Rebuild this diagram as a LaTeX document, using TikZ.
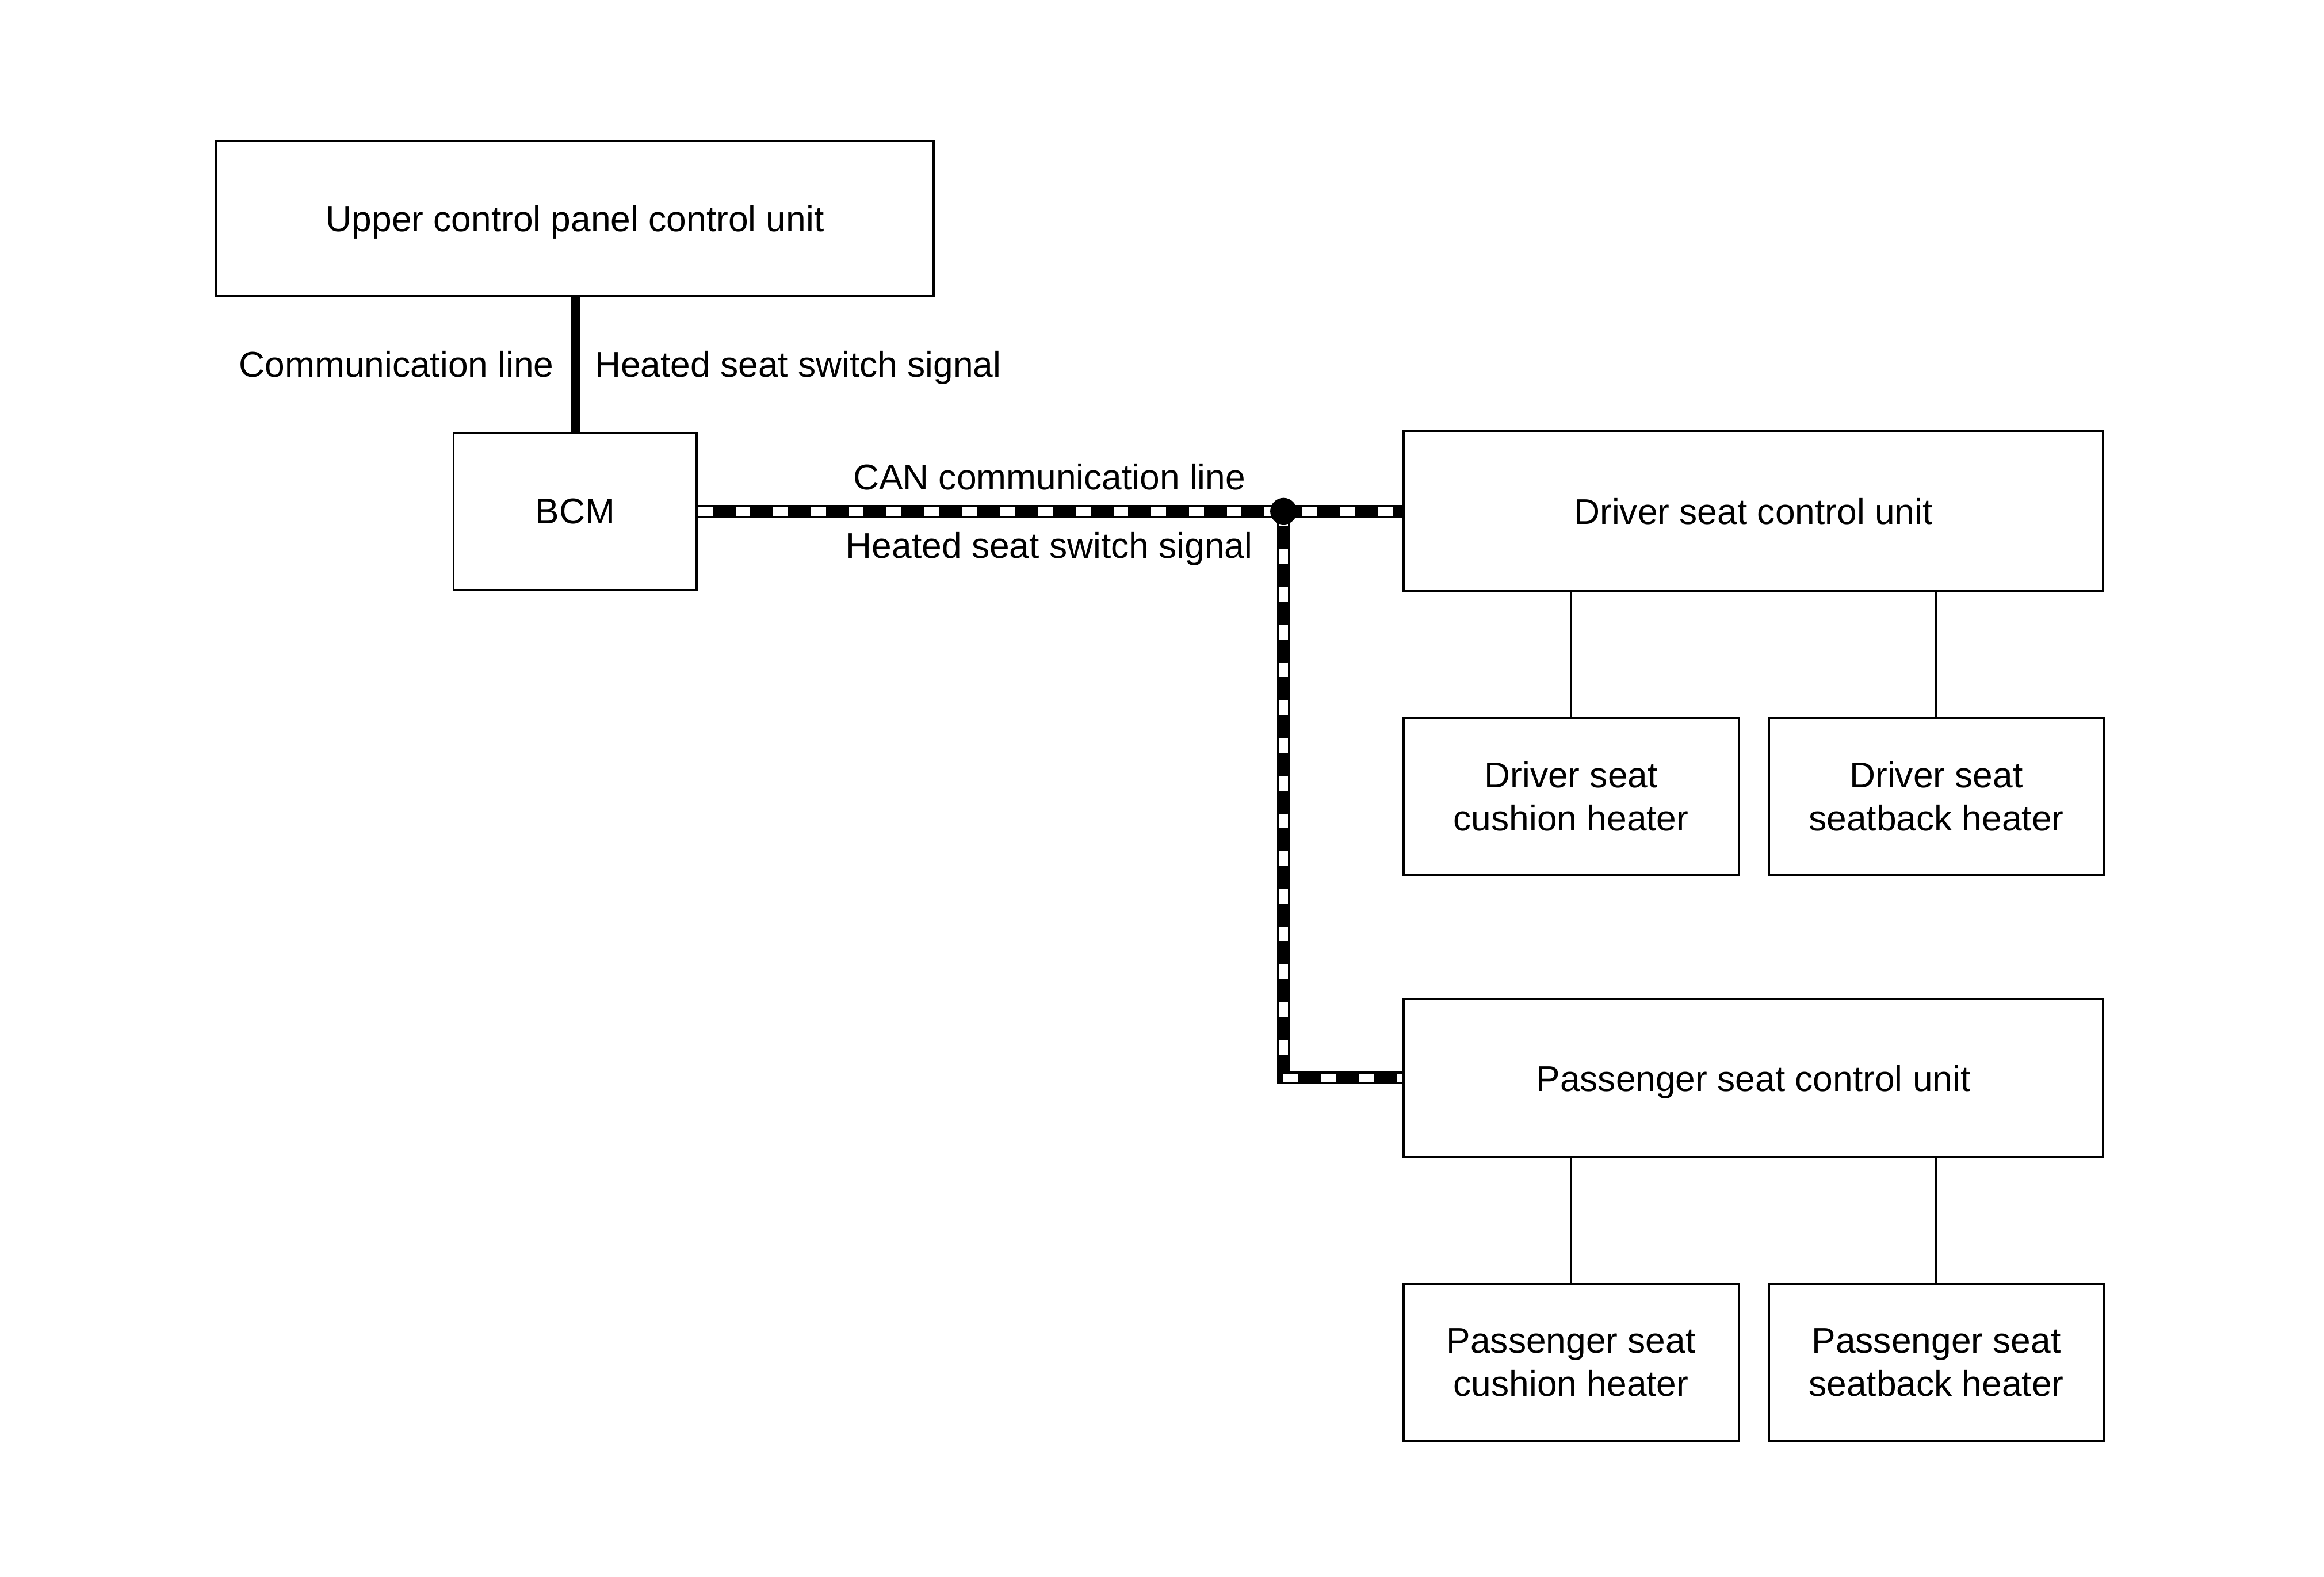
\documentclass[tikz,border=0pt]{standalone}
\usepackage{fontspec}
\setmainfont{Liberation Sans}
\usepackage{xcolor}
\usepackage{tikz}
\usetikzlibrary{arrows.meta,positioning}

\begin{document}
\begin{tikzpicture}[
    x=0.2mm, y=-0.2mm,
    font=\fontsize{13.76pt}{16.5pt}\selectfont,
    unit/.style={draw, line width=0.8pt, inner sep=0pt, minimum height=21.2mm, align=center},
    heater/.style={unit, minimum width=45.2mm},
    label/.style={inner sep=0pt},
    wire/.style={line width=0.8pt},
    comline/.style={line width=1.24mm},
    canbus/.style={line width=1.2mm, white, dash pattern=on 2mm off 3.1mm,
      preaction={draw=black, line width=1.7mm, solid}}
  ]
    \useasboundingbox (0,0) rectangle (1568,1064);
    \node[unit, text depth=0pt, minimum width=96.8mm, minimum height=21mm] (upper) at (388,147.5) {Upper control panel control unit};
    \node[unit, minimum width=32.8mm] (bcm) at (388,345) {BCM};
    \node[unit, minimum width=94.4mm, minimum height=21.6mm] (dcu) at (1183,345) {Driver seat control unit};
    \node[unit, text depth=0pt, minimum width=94.4mm, minimum height=21.4mm] (pcu) at (1183,727.5) {Passenger seat control unit};
    \node[heater, below right=16.8mm and 0mm of dcu.south west] (dcush) {Driver seat\\cushion heater};
    \node[heater, right=3.8mm of dcush] (dback) {Driver seat\\seatback heater};
    \node[heater, below right=16.8mm and 0mm of pcu.south west] (pcush) {Passenger seat\\cushion heater};
    \node[heater, right=3.8mm of pcush] (pback) {Passenger seat\\seatback heater};
    \coordinate (jct) at (866,345);
    % signal lines
    \draw[comline] (upper) -- (bcm);
    \node[label, anchor=base east] (comlbl) at (374,254.6) {Communication line};
    \node[label, anchor=base west] (hsslbl) at (401,254.6) {Heated seat switch signal};
    \draw[canbus] (bcm.east) -- (dcu.west);
    \draw[canbus] (jct) |- (pcu.west);
    \fill (jct) circle (1.8mm);
    \node[label, anchor=base] (canlbl) at (708,330.6) {CAN communication line};
    \node[label, anchor=base] (canhss) at (708,376.6) {Heated seat switch signal};
    % heaters
    \draw[wire] (dcush.north) -- (dcush.north |- dcu.south);
    \draw[wire] (dback.north) -- (dback.north |- dcu.south);
    \draw[wire] (pcush.north) -- (pcush.north |- pcu.south);
    \draw[wire] (pback.north) -- (pback.north |- pcu.south);
  \end{tikzpicture}
\end{document}
